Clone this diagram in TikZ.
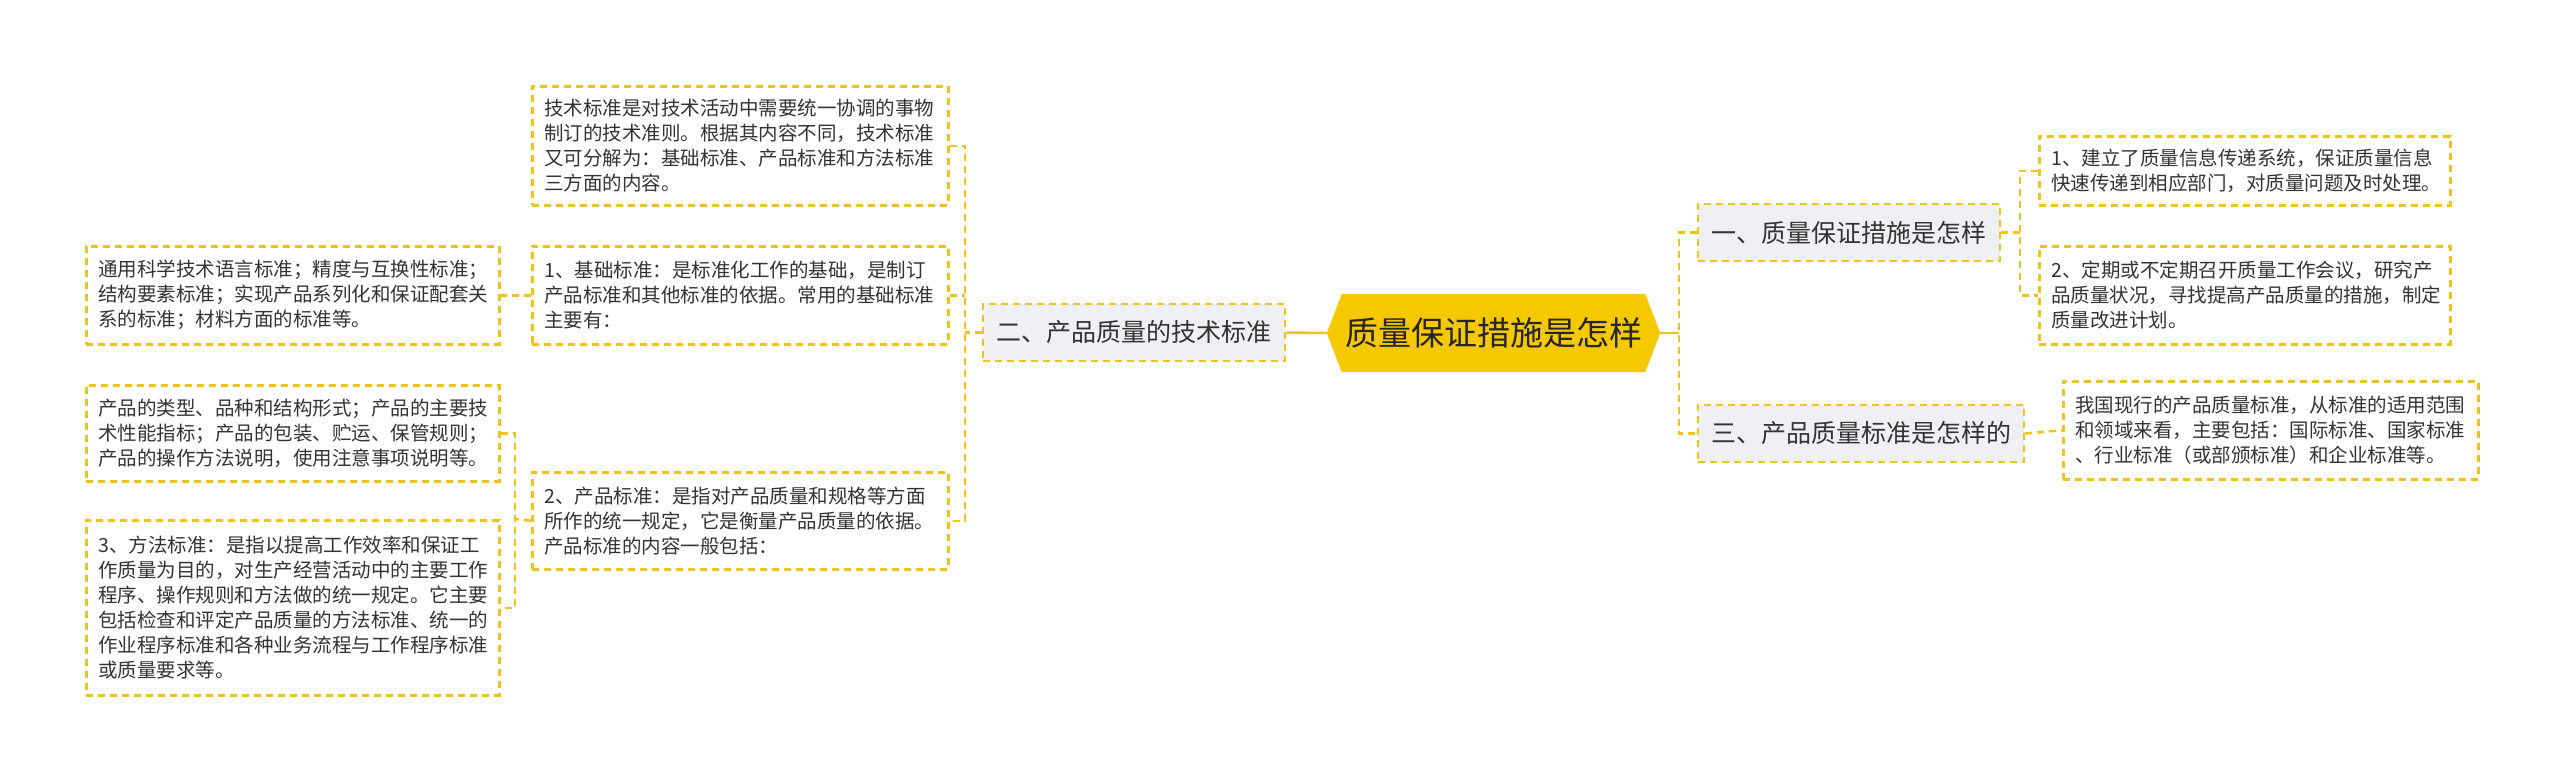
\documentclass[tikz,border=0pt]{standalone}
\usepackage{fontspec}
\newfontfamily\cjk{Noto Sans CJK SC}
\usetikzlibrary{backgrounds}
\definecolor{gold}{HTML}{EFC319}
\definecolor{rootfill}{HTML}{F5C800}
\definecolor{lvlfill}{HTML}{EEF0F3}
\definecolor{txt}{HTML}{333333}
\tikzset{
  dashline/.style={draw=gold, line width=2.5pt, dash pattern=on 7pt off 5pt},
  solidline/.style={draw=gold, line width=2.5pt},
  box/.style={dashline, fill=white, anchor=north west, align=left, inner xsep=12pt, inner ysep=0pt,
    font=\cjk\fontsize{19.5}{25}\selectfont, text=txt},
  lvl/.style={dashline, fill=lvlfill, inner sep=0pt, minimum height=57pt,
    font=\cjk\fontsize{25}{30}\selectfont, text=txt},
  rootnode/.style={inner sep=0pt, minimum width=333pt, minimum height=78pt,
    font=\cjk\fontsize{33}{36}\selectfont, text=black!85},
}
\begin{document}
\begin{tikzpicture}[x=1pt,y=-1pt]
\begin{scope}[on background layer]
\fill[white] (0,0) rectangle (2560,779);
\end{scope}
\useasboundingbox (0,0) rectangle (2560,779);

% root
\node[rootnode] (root) at (1493.5,333) {质量保证措施是怎样};
\begin{scope}[on background layer]
\fill[rootfill] (root.west) -- ([xshift=15pt]root.north west) -- ([xshift=-15pt]root.north east)
  -- (root.east) -- ([xshift=-15pt]root.south east) -- ([xshift=15pt]root.south west) -- cycle;
\end{scope}

% level 1
\node[lvl, minimum width=302pt] (n2) at (1134,332.5) {二、产品质量的技术标准};
\node[lvl, minimum width=302pt] (n1) at (1849,232.5) {一、质量保证措施是怎样};
\node[lvl, minimum width=326pt] (n3) at (1861,433.5) {三、产品质量标准是怎样的};

% left boxes
\node[box, text width=392pt, minimum height=119pt] (A) at (531,85)
  {技术标准是对技术活动中需要统一协调的事物\\制订的技术准则。根据其内容不同，技术标准\\又可分解为：基础标准、产品标准和方法标准\\三方面的内容。};
\node[box, text width=392pt, minimum height=98pt] (B) at (531,245)
  {1、基础标准：是标准化工作的基础，是制订\\产品标准和其他标准的依据。常用的基础标准\\主要有：};
\node[box, text width=389pt, minimum height=98pt] (C) at (85,245)
  {通用科学技术语言标准；精度与互换性标准；\\结构要素标准；实现产品系列化和保证配套关\\系的标准；材料方面的标准等。};
\node[box, text width=389pt, minimum height=96pt] (D) at (85,384)
  {产品的类型、品种和结构形式；产品的主要技\\术性能指标；产品的包装、贮运、保管规则；\\产品的操作方法说明，使用注意事项说明等。};
\node[box, text width=392pt, minimum height=97pt] (E) at (531,471)
  {2、产品标准：是指对产品质量和规格等方面\\所作的统一规定，它是衡量产品质量的依据。\\产品标准的内容一般包括：};
\node[box, text width=389pt, minimum height=175pt] (F) at (85,519)
  {3、方法标准：是指以提高工作效率和保证工\\作质量为目的，对生产经营活动中的主要工作\\程序、操作规则和方法做的统一规定。它主要\\包括检查和评定产品质量的方法标准、统一的\\作业程序标准和各种业务流程与工作程序标准\\或质量要求等。};

% right boxes
\node[box, text width=387pt, minimum height=69pt] (G) at (2038,135)
  {1、建立了质量信息传递系统，保证质量信息\\快速传递到相应部门，对质量问题及时处理。};
\node[box, text width=387pt, minimum height=98pt] (H) at (2038,245)
  {2、定期或不定期召开质量工作会议，研究产\\品质量状况，寻找提高产品质量的措施，制定\\质量改进计划。};
\node[box, text width=391pt, minimum height=98pt] (I) at (2062,380)
  {我国现行的产品质量标准，从标准的适用范围\\和领域来看，主要包括：国际标准、国家标准\\、行业标准（或部颁标准）和企业标准等。};

% junctions
\coordinate (jl1) at (965,332.5);
\coordinate (jl2) at (515,519);
\coordinate (jr1) at (1679,333);
\coordinate (jr2) at (2020,232.5);

% connectors
\draw[solidline] (root.west) -- (n2.east);
\draw[dashline] (n2.west) -- (jl1);
\draw[dashline] (A.east) -- (A.east -| jl1) -- (E.east -| jl1) -- (E.east);
\draw[dashline] (B.east) -- (B.east -| jl1);
\draw[dashline] (B.west) -- (C.east);
\draw[dashline] (E.west) -- (jl2);
\draw[dashline] (D.east) -- (D.east -| jl2) -- (F.east -| jl2) -- (F.east);

\draw[solidline] (root.east) -- (jr1);
\draw[dashline] (n1.west) -- (n1.west -| jr1) -- (n3.west -| jr1) -- (n3.west);
\draw[dashline] (n1.east) -- (jr2);
\draw[dashline] (G.west) -- (G.west -| jr2) -- (H.west -| jr2) -- (H.west);
\draw[dashline] (n3.east) -- (I.west);
\end{tikzpicture}
\end{document}
